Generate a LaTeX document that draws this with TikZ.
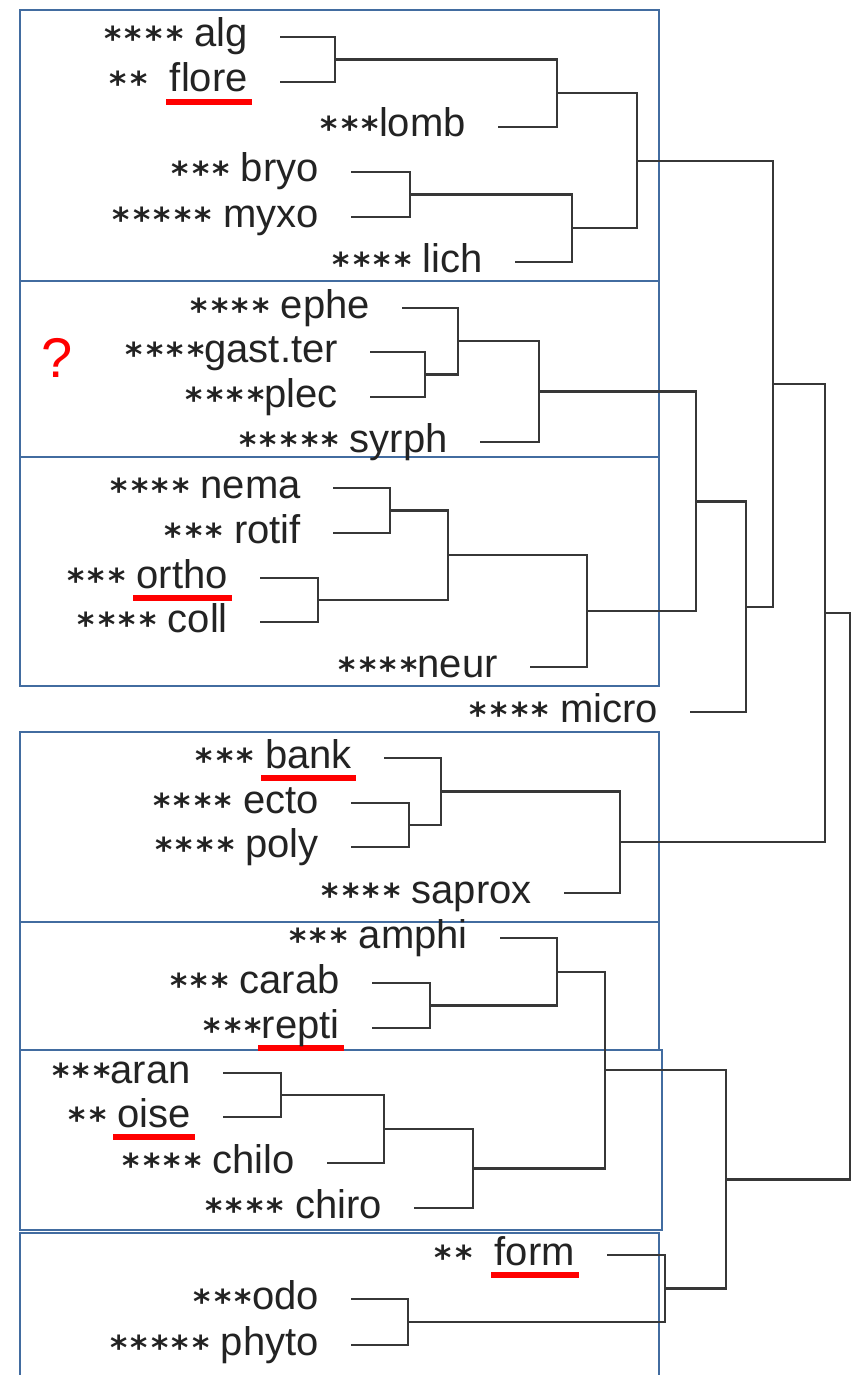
\documentclass[tikz,border=0pt]{standalone}
\usepackage{fontspec}
\setmainfont{Liberation Sans}
\newfontfamily\starfont[LetterSpace=10]{DejaVu Sans Bold}

\definecolor{boxblue}{RGB}{66,108,160}
\definecolor{branchgray}{RGB}{55,55,55}
\definecolor{labelgray}{RGB}{35,35,35}

% significance stars, lowered to the middle of the small letters
\newcommand{\sig}[1]{\raisebox{-4pt}{\starfont\fontsize{33}{36}\selectfont #1}}
% red mark under a word
\newcommand{\redline}[1]{\setbox0\hbox{#1}\rlap{\kern-4pt\color{red}\rule[-13pt]{\dimexpr\wd0+8pt\relax}{6pt}}\box0}

\begin{document}
\begin{tikzpicture}[x=1pt,y=-1pt,
    taxon/.style={anchor=east, inner xsep=32pt, inner ysep=0pt, text height=20pt, text depth=0pt,
        text=labelgray, font=\fontsize{40}{48}\selectfont},
    branch/.style={draw=branchgray, line width=2.4pt},
    group/.style={draw=boxblue, line width=2.6pt}]

    \useasboundingbox (0,0) rectangle (854,1375);
    \fill[white] (0,0) rectangle (854,1375);

    % Groups
    \draw[group] (20,10) rectangle (659,281);
    \draw[group] (20,281) rectangle (659,457);
    \draw[group] (20,457) rectangle (659,686);
    \draw[group] (20,732) rectangle (659,922);
    \draw[group] (20,922) rectangle (659,1050);
    \draw[group] (20,1050) rectangle (662,1230);
    \draw[group] (20,1233) rectangle (659,1378);

    \node[text=red, font=\fontsize{56}{60}\selectfont] (query) at (57,358) {?};

    % Taxa
    \node[taxon] (alg) at (280,37) {\sig{****} alg};
    \node[taxon] (flore) at (280,82) {\sig{**}\ \ \redline{flore}};
    \node[taxon] (lomb) at (498,127) {\sig{***}lomb};
    \node[taxon] (bryo) at (351,172) {\sig{***} bryo};
    \node[taxon] (myxo) at (351,217) {\sig{*****} myxo};
    \node[taxon] (lich) at (515,262) {\sig{****} lich};

    \node[taxon] (ephe) at (402,308) {\sig{****} ephe};
    \node[taxon] (gast) at (370,352) {\sig{****}gast.ter};
    \node[taxon] (plec) at (370,397) {\sig{****}plec};
    \node[taxon] (syrph) at (480,442) {\sig{*****} syrph};

    \node[taxon] (nema) at (333,488) {\sig{****} nema};
    \node[taxon] (rotif) at (333,533) {\sig{***} rotif};
    \node[taxon] (ortho) at (260,578) {\sig{***} \redline{ortho}};
    \node[taxon] (coll) at (260,622) {\sig{****} coll};
    \node[taxon] (neur) at (530,667) {\sig{****}neur};

    \node[taxon] (micro) at (690,712) {\sig{****} micro};

    \node[taxon] (bank) at (384,758) {\sig{***} \redline{bank}};
    \node[taxon] (ecto) at (351,803) {\sig{****} ecto};
    \node[taxon] (poly) at (351,847) {\sig{****} poly};
    \node[taxon] (saprox) at (564,893) {\sig{****} saprox};

    \node[taxon] (amphi) at (500,938) {\sig{***} amphi};
    \node[taxon] (carab) at (372,983) {\sig{***} carab};
    \node[taxon] (repti) at (372,1028) {\sig{***}\redline{repti}};

    \node[taxon] (aran) at (223,1073) {\sig{***}aran};
    \node[taxon] (oise) at (223,1117) {\sig{**} \redline{oise}};
    \node[taxon] (chilo) at (327,1163) {\sig{****} chilo};
    \node[taxon] (chiro) at (414,1208) {\sig{****} chiro};

    \node[taxon] (form) at (607,1255) {\sig{**}\ \ \redline{form}};
    \node[taxon] (odo) at (351,1299) {\sig{***}odo};
    \node[taxon] (phyto) at (351,1345) {\sig{*****} phyto};

    % Tree, first group
    \coordinate (m1) at (335,59.5);
    \draw[branch] (alg) -- (alg -| m1) -- (flore -| m1) -- (flore);
    \coordinate (m2) at (557,93.25);
    \draw[branch] (m1) -- (m1 -| m2) -- (lomb -| m2) -- (lomb);
    \coordinate (m3) at (410,194.5);
    \draw[branch] (bryo) -- (bryo -| m3) -- (myxo -| m3) -- (myxo);
    \coordinate (m4) at (572,228.25);
    \draw[branch] (m3) -- (m3 -| m4) -- (lich -| m4) -- (lich);
    \coordinate (m5) at (637,160.75);
    \draw[branch] (m2) -- (m2 -| m5) -- (m4 -| m5) -- (m4);

    % second and third group, micro
    \coordinate (m6) at (425,374.5);
    \draw[branch] (gast) -- (gast -| m6) -- (plec -| m6) -- (plec);
    \coordinate (m7) at (458,341.25);
    \draw[branch] (ephe) -- (ephe -| m7) -- (m6 -| m7) -- (m6);
    \coordinate (m8) at (539,391.6);
    \draw[branch] (m7) -- (m7 -| m8) -- (syrph -| m8) -- (syrph);
    \coordinate (m9) at (390,510.5);
    \draw[branch] (nema) -- (nema -| m9) -- (rotif -| m9) -- (rotif);
    \coordinate (m10) at (318,600);
    \draw[branch] (ortho) -- (ortho -| m10) -- (coll -| m10) -- (coll);
    \coordinate (m11) at (448,555.25);
    \draw[branch] (m9) -- (m9 -| m11) -- (m10 -| m11) -- (m10);
    \coordinate (m12) at (587,611.1);
    \draw[branch] (m11) -- (m11 -| m12) -- (neur -| m12) -- (neur);
    \coordinate (m13) at (696,501.4);
    \draw[branch] (m8) -- (m8 -| m13) -- (m12 -| m13) -- (m12);
    \coordinate (m14) at (746,606.7);
    \draw[branch] (m13) -- (m13 -| m14) -- (micro -| m14) -- (micro);
    \coordinate (m15) at (773,383.7);
    \draw[branch] (m5) -- (m5 -| m15) -- (m14 -| m15) -- (m14);

    % fourth group
    \coordinate (m16) at (409,825);
    \draw[branch] (ecto) -- (ecto -| m16) -- (poly -| m16) -- (poly);
    \coordinate (m17) at (441,791.5);
    \draw[branch] (bank) -- (bank -| m17) -- (m16 -| m17) -- (m16);
    \coordinate (m18) at (620,842.25);
    \draw[branch] (m17) -- (m17 -| m18) -- (saprox -| m18) -- (saprox);
    \coordinate (m19) at (825,613);
    \draw[branch] (m15) -- (m15 -| m19) -- (m18 -| m19) -- (m18);

    % lower groups
    \coordinate (m20) at (430,1005.5);
    \draw[branch] (carab) -- (carab -| m20) -- (repti -| m20) -- (repti);
    \coordinate (m21) at (557,971.75);
    \draw[branch] (amphi) -- (amphi -| m21) -- (m20 -| m21) -- (m20);
    \coordinate (m22) at (281,1095);
    \draw[branch] (aran) -- (aran -| m22) -- (oise -| m22) -- (oise);
    \coordinate (m23) at (384,1129);
    \draw[branch] (m22) -- (m22 -| m23) -- (chilo -| m23) -- (chilo);
    \coordinate (m24) at (473,1168.5);
    \draw[branch] (m23) -- (m23 -| m24) -- (chiro -| m24) -- (chiro);
    \coordinate (m25) at (605,1070.1);
    \draw[branch] (m21) -- (m21 -| m25) -- (m24 -| m25) -- (m24);
    \coordinate (m26) at (408,1322);
    \draw[branch] (odo) -- (odo -| m26) -- (phyto -| m26) -- (phyto);
    \coordinate (m27) at (665,1288.5);
    \draw[branch] (form) -- (form -| m27) -- (m26 -| m27) -- (m26);
    \coordinate (m28) at (726,1179.3);
    \draw[branch] (m25) -- (m25 -| m28) -- (m27 -| m28) -- (m27);

    % root
    \coordinate (root) at (850,896.2);
    \draw[branch] (m19) -- (m19 -| root) -- (m28 -| root) -- (m28);
\end{tikzpicture}
\end{document}
